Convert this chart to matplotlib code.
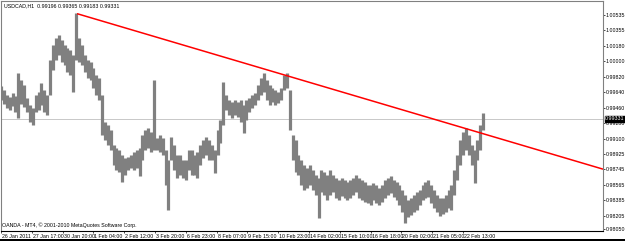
import matplotlib
matplotlib.use("Agg")
import matplotlib.pyplot as plt
import matplotlib.transforms as mtransforms
import numpy as np
from matplotlib.patches import Rectangle

symbol = "USDCAD,H1"
ohlc_last = ["0.99196", "0.99365", "0.99183", "0.99331"]
copyright_text = "OANDA - MT4, © 2001-2010 MetaQuotes Software Corp."

# 3-hour aggregated bars (high / low)
bar_high = [0.9971, 0.9966, 0.9961, 0.9958, 0.9963, 0.9959, 0.9986, 0.9978, 0.9972, 0.9957,
            0.9949, 0.9946, 0.9961, 0.9964, 0.9975, 0.9966, 0.9961, 1.0001, 1.0019, 1.0027,
            1.0030, 1.0024, 1.0019, 1.0015, 1.0013, 1.0007, 1.0056, 1.0027, 1.0019, 1.0007,
            1.0001, 0.9999, 0.9992, 0.9984, 0.9980, 0.9961, 0.9929, 0.9926, 0.9920, 0.9903,
            0.9899, 0.9897, 0.9891, 0.9887, 0.9889, 0.9891, 0.9894, 0.9897, 0.9899, 0.9914,
            0.9920, 0.9922, 0.9918, 0.9978, 0.9911, 0.9914, 0.9911, 0.9897, 0.9885, 0.9912,
            0.9903, 0.9891, 0.9891, 0.9885, 0.9885, 0.9897, 0.9897, 0.9891, 0.9894, 0.9903,
            0.9908, 0.9912, 0.9908, 0.9903, 0.9897, 0.9920, 0.9932, 0.9976, 0.9961, 0.9955,
            0.9952, 0.9955, 0.9952, 0.9955, 0.9949, 0.9955, 0.9957, 0.9961, 0.9963, 0.9972,
            0.9980, 0.9986, 0.9978, 0.9972, 0.9969, 0.9966, 0.9964, 0.9969, 0.9984, 0.9986,
            0.9966, 0.9914, 0.9908, 0.9891, 0.9885, 0.9879, 0.9876, 0.9879, 0.9874, 0.9868,
            0.9864, 0.9874, 0.9871, 0.9868, 0.9874, 0.9868, 0.9864, 0.9862, 0.9864, 0.9862,
            0.9860, 0.9862, 0.9864, 0.9868, 0.9864, 0.9862, 0.9860, 0.9856, 0.9856, 0.9858,
            0.9856, 0.9853, 0.9856, 0.9862, 0.9864, 0.9867, 0.9862, 0.9860, 0.9856, 0.9850,
            0.9844, 0.9839, 0.9841, 0.9844, 0.9848, 0.9850, 0.9856, 0.9860, 0.9862, 0.9856,
            0.9850, 0.9844, 0.9841, 0.9841, 0.9844, 0.9850, 0.9856, 0.9874, 0.9891, 0.9908,
            0.9918, 0.9922, 0.9914, 0.9903, 0.9897, 0.9908, 0.9926, 0.9940]
bar_low = [0.9955, 0.9950, 0.9946, 0.9943, 0.9948, 0.9941, 0.9934, 0.9950, 0.9947, 0.9941,
           0.9929, 0.9926, 0.9941, 0.9943, 0.9949, 0.9941, 0.9937, 0.9961, 0.9990, 1.0001,
           1.0007, 0.9999, 0.9995, 0.9987, 0.9984, 0.9964, 1.0001, 0.9999, 0.9995, 0.9987,
           0.9980, 0.9978, 0.9969, 0.9961, 0.9955, 0.9914, 0.9908, 0.9903, 0.9897, 0.9879,
           0.9874, 0.9871, 0.9860, 0.9868, 0.9874, 0.9876, 0.9874, 0.9876, 0.9867, 0.9885,
           0.9897, 0.9899, 0.9894, 0.9897, 0.9897, 0.9894, 0.9891, 0.9856, 0.9827, 0.9885,
           0.9874, 0.9864, 0.9868, 0.9864, 0.9862, 0.9874, 0.9868, 0.9868, 0.9864, 0.9879,
           0.9887, 0.9891, 0.9885, 0.9885, 0.9870, 0.9891, 0.9905, 0.9926, 0.9943, 0.9937,
           0.9934, 0.9937, 0.9935, 0.9929, 0.9917, 0.9932, 0.9941, 0.9946, 0.9949, 0.9955,
           0.9961, 0.9964, 0.9955, 0.9949, 0.9952, 0.9949, 0.9951, 0.9955, 0.9966, 0.9969,
           0.9920, 0.9885, 0.9871, 0.9868, 0.9856, 0.9850, 0.9853, 0.9856, 0.9850, 0.9844,
           0.9818, 0.9848, 0.9844, 0.9839, 0.9844, 0.9848, 0.9841, 0.9839, 0.9843, 0.9841,
           0.9839, 0.9841, 0.9844, 0.9848, 0.9841, 0.9839, 0.9836, 0.9835, 0.9833, 0.9839,
           0.9835, 0.9833, 0.9836, 0.9841, 0.9844, 0.9847, 0.9842, 0.9839, 0.9833, 0.9825,
           0.9812, 0.9819, 0.9821, 0.9825, 0.9827, 0.9833, 0.9839, 0.9841, 0.9842, 0.9835,
           0.9829, 0.9825, 0.9820, 0.9822, 0.9825, 0.9829, 0.9827, 0.9844, 0.9862, 0.9879,
           0.9891, 0.9897, 0.9891, 0.9879, 0.9858, 0.9885, 0.9897, 0.9920]
bar_hours = 3  # hours per plotted bar

x_tick_labels = ["26 Jan 2011", "27 Jan 17:00", "30 Jan 20:00", "1 Feb 04:00", "2 Feb 12:00",
                 "3 Feb 20:00", "6 Feb 23:00", "8 Feb 07:00", "9 Feb 15:00", "10 Feb 23:00",
                 "14 Feb 02:00", "15 Feb 10:00", "16 Feb 18:00", "20 Feb 02:00", "21 Feb 05:00",
                 "22 Feb 13:00"]
x_tick_step_hours = 32

y_tick_values = [1.00535, 1.00355, 1.00180, 1.00000, 0.99820, 0.99640, 0.99460, 0.99280,
                 0.99100, 0.98925, 0.98745, 0.98565, 0.98385, 0.98205, 0.98050]
current_price = 0.99331

trend_x = [79, 625.5]
trend_y = [1.00550, 0.98745]

FONT = ["Liberation Sans Narrow", "Liberation Sans", "DejaVu Sans"]
plt.rcParams["font.family"] = FONT

W, H = 625, 241
fig = plt.figure(figsize=(W / 100, H / 100), dpi=100)
fig.patch.set_facecolor("white")
ax = fig.add_axes([0.5 / W, 1 - 231 / H, 602.5 / W, 230 / H])
ax.set_facecolor("white")

ax.set_xlim(-0.52, 625.5)
ax.set_ylim(0.98027, 1.00697)

xs = np.arange(len(bar_high)) * bar_hours
ax.vlines(xs, bar_low, bar_high, color="#808080", linewidth=2.3, zorder=3)

ax.axhline(current_price, color="#c8c8c8", linewidth=0.7, zorder=1)
ax.plot(trend_x, trend_y, color="#ff0000", linewidth=1.1, zorder=4, solid_capstyle="butt")

for s in ax.spines.values():
    s.set_color("#808080")
    s.set_linewidth(0.8)
ax.spines["bottom"].set_color("#000000")

fs = 3.8
ax.yaxis.tick_right()
ax.set_yticks(y_tick_values)
ax.set_yticklabels([f"{v:.5f}" for v in y_tick_values], fontsize=fs, color="#000000")
ax.tick_params(axis="y", direction="out", length=1.5, width=0.5, pad=0.4, colors="#000000")

xt = np.arange(len(x_tick_labels)) * x_tick_step_hours
ax.set_xticks(xt)
ax.set_xticklabels(x_tick_labels, fontsize=fs, ha="left", color="#000000")
ax.tick_params(axis="x", direction="out", length=1.5, width=0.5, pad=0.6, colors="#000000")
shift = mtransforms.ScaledTranslation(1 / 100, 0, fig.dpi_scale_trans)
for lbl in ax.get_xticklabels():
    lbl.set_transform(lbl.get_transform() + shift)

# current price box
ax.annotate(f"{current_price:.5f}", xy=(1, current_price), xycoords=("axes fraction", "data"),
            xytext=(1.5, 0), textcoords="offset points", fontsize=fs, color="white",
            va="center", ha="left",
            bbox=dict(boxstyle="square,pad=0.1", fc="black", ec="black"), zorder=10,
            annotation_clip=False)

ax.text(3 / 602.5, 1 - 2 / 230, symbol + "  " + " ".join(ohlc_last), transform=ax.transAxes,
        fontsize=fs, va="top", ha="left", color="#000000")
ax.text(2 / 602.5, 2.5 / 230, copyright_text, transform=ax.transAxes,
        fontsize=fs, va="bottom", ha="left", color="#000000")

fig.patches.append(Rectangle((0, 0), 1, 2.5 / H, transform=fig.transFigure,
                             facecolor="black", edgecolor="none", zorder=0))

fig.savefig("out.png", dpi=100, facecolor="white")
